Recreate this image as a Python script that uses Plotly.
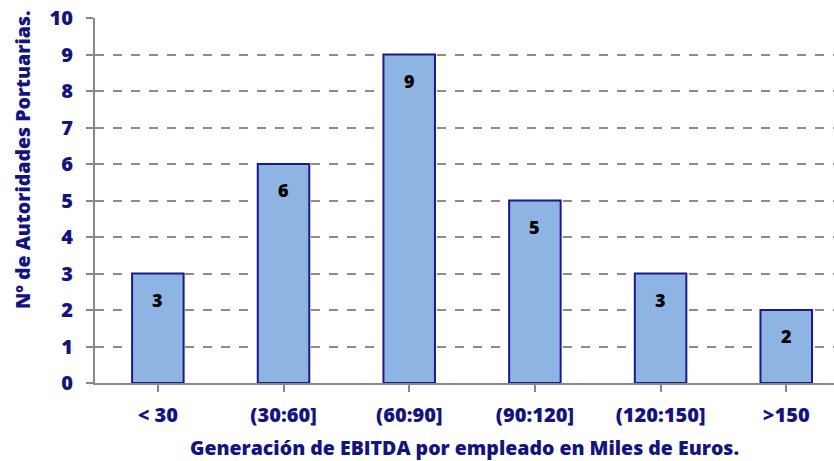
import plotly.graph_objects as go

categories = ["< 30", "(30:60]", "(60:90]", "(90:120]", "(120:150]", ">150"]
values = [3, 6, 9, 5, 3, 2]
y_ticks = list(range(0, 11))

navy = "#14147F"
fam = "Open Sans"
fig = go.Figure()
fig.add_trace(go.Bar(
    x=list(range(len(categories))), y=values, width=0.41,
    marker=dict(color="#8DB4E2", line=dict(color="#1A1A8C", width=2)),
    hoverinfo="skip",
))
for i, v in enumerate(values):
    fig.add_annotation(x=i, y=v, text=str(v), showarrow=False, yshift=-26,
                       font=dict(family=fam, size=18, color="black", weight=800))

fig.add_annotation(
    text="Nº de Autoridades Portuarias.", textangle=-90, showarrow=False,
    xref="paper", yref="paper", x=0, y=0.611, xanchor="center", yanchor="middle",
    xshift=-72, font=dict(family=fam, size=19.5, color=navy, weight=800),
)

fig.update_layout(
    width=834, height=461,
    margin=dict(l=95, r=0, t=18, b=78),
    plot_bgcolor="white", paper_bgcolor="white",
    showlegend=False,
    font=dict(family=fam, color=navy, size=20, weight=800),
)
fig.update_xaxes(
    automargin=False,
    range=[-0.5, 5.38],
    tickmode="array", tickvals=list(range(len(categories))), ticktext=categories,
    tickfont=dict(family=fam, size=20, color=navy, weight=800),
    ticklabelstandoff=6,
    showline=True, linecolor="#888888", linewidth=2,
    ticks="outside", tickson="boundaries", ticklen=7, tickcolor="#888888", tickwidth=2,
    showgrid=False, zeroline=False,
    title=dict(text="Generación de EBITDA por empleado en Miles de Euros.",
               font=dict(family=fam, size=19.5, color=navy, weight=800), standoff=16),
)
fig.update_yaxes(
    automargin=False,
    range=[0, 10], tickvals=y_ticks,
    tickfont=dict(family=fam, size=20, color=navy, weight=800),
    ticklabelstandoff=9,
    showline=True, linecolor="#888888", linewidth=2,
    ticks="outside", ticklen=7, tickcolor="#888888", tickwidth=2,
    showgrid=True, gridcolor="#8C8C8C", griddash="dash", gridwidth=1.5,
    zeroline=False,
)
fig.write_html("out.html", config={"displayModeBar": False},
               post_script="document.body.style.margin='0';")
